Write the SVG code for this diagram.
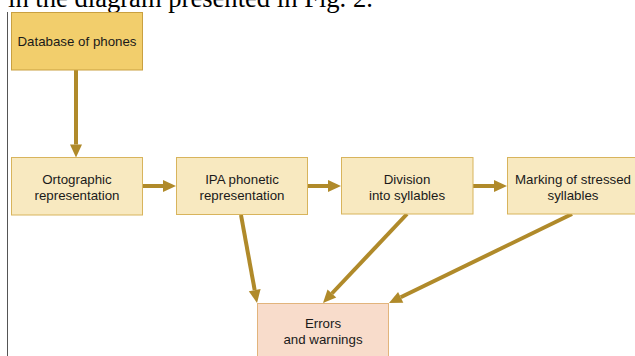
<svg xmlns="http://www.w3.org/2000/svg" width="635" height="356" viewBox="0 0 635 356">
<defs>
<style>
.t{font-family:"Liberation Sans",Arial,sans-serif;font-size:13.3px;fill:#1a1a1a;text-anchor:middle}
.b{fill:#F8E9C0;stroke:#D8B45C;stroke-width:1}
.c{stroke:#B08A2A;stroke-width:4;fill:none}
</style>
<marker id="ah" markerUnits="userSpaceOnUse" markerWidth="14" markerHeight="14" refX="0" refY="0" viewBox="0 -7 14 14" orient="auto" overflow="visible">
<path d="M0,-6 L13,0 L0,6 z" fill="#B08A2A"/>
</marker>
</defs>
<rect width="635" height="356" fill="#fff"/>
<text x="8" y="7" font-family="'Liberation Serif','Times New Roman',serif" font-size="26.6" fill="#000">in the diagram presented in Fig. 2.</text>
<line x1="7.5" y1="12" x2="7.5" y2="356" stroke="#555" stroke-width="1"/>
<g id="connectors">
<line class="c" x1="76" y1="70" x2="76" y2="144.5" marker-end="url(#ah)"/>
<line class="c" x1="143" y1="186" x2="163" y2="186" marker-end="url(#ah)"/>
<line class="c" x1="307" y1="186" x2="328" y2="186" marker-end="url(#ah)"/>
<line class="c" x1="473" y1="186" x2="494" y2="186" marker-end="url(#ah)"/>
<line class="c" x1="241" y1="215" x2="254.7" y2="290.2" marker-end="url(#ah)"/>
<line class="c" x1="407" y1="214" x2="331.9" y2="293.5" marker-end="url(#ah)"/>
<line class="c" x1="572" y1="214" x2="400.7" y2="297.3" marker-end="url(#ah)"/>
</g>
<g id="database">
<rect x="11.5" y="12.5" width="131" height="57.5" fill="#F2CE6C" stroke="#C9A040"/>
<text class="t" x="77" y="46">Database of phones</text>
</g>
<g id="ortographic">
<rect class="b" x="11.5" y="157.5" width="131" height="57.5"/>
<text class="t" x="77" y="184">Ortographic</text>
<text class="t" x="77" y="200">representation</text>
</g>
<g id="ipa">
<rect class="b" x="176.5" y="157.5" width="131" height="57"/>
<text class="t" x="242" y="184">IPA phonetic</text>
<text class="t" x="242" y="200">representation</text>
</g>
<g id="division">
<rect class="b" x="341.5" y="157.5" width="131.5" height="56.5"/>
<text class="t" x="407" y="184">Division</text>
<text class="t" x="407" y="200">into syllables</text>
</g>
<g id="marking">
<rect class="b" x="507.5" y="157.5" width="132" height="56.5"/>
<text class="t" x="573" y="184">Marking of stressed</text>
<text class="t" x="573" y="200">syllables</text>
</g>
<g id="errors">
<rect x="257.5" y="303.5" width="131" height="60" fill="#F8DCCB" stroke="#E2B47C"/>
<text class="t" x="323" y="328">Errors</text>
<text class="t" x="323" y="344">and warnings</text>
</g>
</svg>
